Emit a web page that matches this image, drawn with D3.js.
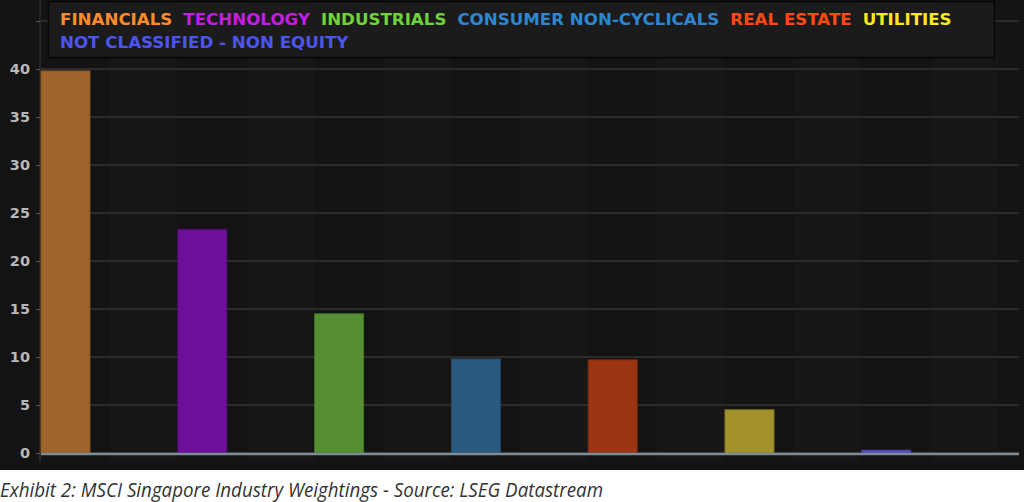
<!DOCTYPE html>
<html><head><meta charset="utf-8">
<script src="https://cdn.jsdelivr.net/npm/d3@7"></script>
<style>
html,body{margin:0;padding:0;background:#fff;}
svg{display:block;}
</style></head>
<body>
<svg id="c" width="1024" height="502"></svg>
<script>
const categories = ["FINANCIALS","TECHNOLOGY","INDUSTRIALS","CONSUMER NON-CYCLICALS","REAL ESTATE","UTILITIES","NOT CLASSIFIED - NON EQUITY"];
const values = [39.8, 23.3, 14.5, 9.8, 9.7, 4.5, 0.3];
const barColors = ["#a0652b","#6e0f99","#568f32","#2a5a80","#9b3513","#a3922a","#5b4fc2"];
const legendColors = ["#ff8c2a","#c21ee0","#6fd43a","#2e86d0","#ff4a12","#ffe820","#4d55ee"];
const yTicks = [0,5,10,15,20,25,30,35,40];
const caption = "Exhibit 2: MSCI Singapore Industry Weightings - Source: LSEG Datastream";

const svg = d3.select("#c");
svg.append("rect").attr("x",0).attr("y",0).attr("width",1024).attr("height",470).attr("fill","#131313");

const x0 = 41, step = 136.8;
const x = d3.scaleBand().domain(categories).range([x0, x0 + step*categories.length]).paddingInner(0).paddingOuter(0);
const y = d3.scaleLinear().domain([0,45]).range([453, 21]);
const bw = 49;

// subtle vertical column shading
const g0 = svg.append("g");
categories.forEach((c,i)=>{
  g0.append("rect").attr("x", x(c)+ step/2).attr("y",0).attr("width", step/2).attr("height",462).attr("fill","#161616");
});

// horizontal grid
svg.append("g").selectAll("line").data(yTicks.concat([45])).join("line")
  .attr("x1",41).attr("x2",1019).attr("y1",d=>y(d)).attr("y2",d=>y(d))
  .attr("stroke","#2c2c2c").attr("stroke-width",2);

// y axis
const ax = svg.append("g").attr("transform","translate(40,0)")
  .call(d3.axisLeft(y).tickValues(yTicks.concat([45])).tickSize(4).tickPadding(6).tickFormat(d=> d===45 ? "" : d));
ax.select(".domain").attr("stroke","#3a3a3a").attr("d","M0,0V462");
ax.selectAll(".tick line").attr("stroke","#555");
ax.selectAll("text").attr("fill","#b9b9b9").attr("font-family","'DejaVu Sans', Lato, sans-serif").attr("font-weight","bold").attr("font-size","14.5px");

// bars
svg.append("g").selectAll("rect").data(values).join("rect")
  .attr("x",(d,i)=>x(categories[i]))
  .attr("y",d=>y(d))
  .attr("width",bw)
  .attr("height",d=>y(0)-y(d))
  .attr("fill",(d,i)=>barColors[i])
  .attr("stroke",(d,i)=>d3.color(barColors[i]).darker(0.6))
  .attr("stroke-width",1);

// zero line
svg.append("line").attr("x1",41).attr("x2",1019).attr("y1",y(0)+1).attr("y2",y(0)+1)
  .attr("stroke","#7d8d97").attr("stroke-width",2.5);

// legend
svg.append("rect").attr("x",48.5).attr("y",1.5).attr("width",946).attr("height",56)
  .attr("fill","#1b1b1c").attr("stroke","#050505").attr("stroke-width",1.5);
const lg = svg.append("g").attr("font-family","'DejaVu Sans', 'Open Sans', sans-serif").attr("font-weight","bold").attr("font-size","16.5px");
const legendScale = 1.01;
let lx = 60;
const row1 = categories.slice(0,6);
row1.forEach((c,i)=>{
  const t = lg.append("text").attr("x",lx).attr("y",24.5).attr("fill",legendColors[i]).text(c);
  const w = t.node().getComputedTextLength()*legendScale;
  t.attr("textLength", w).attr("lengthAdjust","spacingAndGlyphs");
  lx += w + 11;
});
const t7 = lg.append("text").attr("x",60).attr("y",48).attr("fill",legendColors[6]).text(categories[6]);
t7.attr("textLength", t7.node().getComputedTextLength()*legendScale).attr("lengthAdjust","spacingAndGlyphs");

// caption
const cap = svg.append("text").attr("x",0).attr("y",497)
  .attr("font-family","'Open Sans', sans-serif")
  .attr("font-style","italic").attr("font-size","20px").attr("fill","#333")
  .text(caption);
cap.attr("textLength", 603).attr("lengthAdjust","spacingAndGlyphs");
</script>
</body></html>
